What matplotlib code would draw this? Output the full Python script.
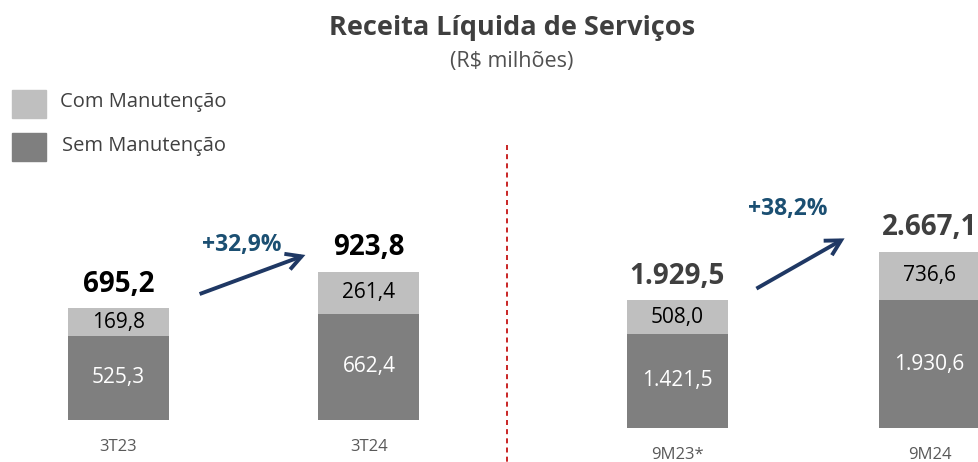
import matplotlib.pyplot as plt
from matplotlib.patches import Rectangle, FancyArrowPatch

plt.rcParams['font.family'] = ['Open Sans', 'DejaVu Sans']

# data
left_cats = ['3T23', '3T24']
left_sem = [525.3, 662.4]
left_com = [169.8, 261.4]
left_total = ['695,2', '923,8']
left_growth = '+32,9%'

right_cats = ['9M23*', '9M24']
right_sem = [1421.5, 1930.6]
right_com = [508.0, 736.6]
right_total = ['1.929,5', '2.667,1']
right_growth = '+38,2%'

W, H = 979, 462
LIGHT = '#BFBFBF'
DARK = '#7F7F7F'
ARROW = '#1F3864'
GROWTH = '#1B4F72'

fig = plt.figure(figsize=(W / 100, H / 100), dpi=100)


def fx(px):
    return px / W


def fy(py):
    return 1 - py / H


def fmt(v):
    s = f'{v:,.1f}'
    return s.replace(',', 'X').replace('.', ',').replace('X', '.')


def panel(cats, sem, com, totals, c0, c1, base_px, per_px, total_color):
    # axes spans the full figure; data scale set so bars land in place
    ax = fig.add_axes([0, 0, 1, 1])
    ax.set_axis_off()
    step = c1 - c0
    ax.set_xlim(-c0 / step, (W - c0) / step)
    ax.set_ylim(-(H - base_px) * per_px, base_px * per_px)
    x = list(range(len(cats)))
    ax.bar(x, sem, width=101 / step, color=DARK, linewidth=0)
    ax.bar(x, com, bottom=sem, width=101 / step, color=LIGHT, linewidth=0)
    for i in x:
        ax.text(i, sem[i] / 2, fmt(sem[i]), ha='center', va='center', color='white', fontsize=15)
        ax.text(i, sem[i] + com[i] / 2, fmt(com[i]), ha='center', va='center', color='black', fontsize=15)
        ax.text(i, sem[i] + com[i] + 24 * per_px, totals[i], ha='center', va='center',
                color=total_color, fontsize=20, fontweight='bold')
        ax.text(i, -27 * per_px, cats[i], ha='center', va='center', color='#595959', fontsize=12)
    return ax


panel(left_cats, left_sem, left_com, left_total, 118.5, 369, 420, 6.23, 'black')
panel(right_cats, right_sem, right_com, right_total, 677, 929.5, 428, 15.12, '#3F3F3F')

# growth arrows
for start, end in [((197, 295), (308, 254)), ((754, 290), (847, 237))]:
    fig.patches.append(FancyArrowPatch(
        (fx(start[0]), fy(start[1])), (fx(end[0]), fy(end[1])), transform=fig.transFigure,
        arrowstyle='->,head_length=11,head_width=6', color=ARROW, linewidth=2.8,
        joinstyle='miter', capstyle='butt'))
fig.text(fx(242), fy(245), left_growth, ha='center', va='center', color=GROWTH,
         fontsize=16.5, fontweight='bold')
fig.text(fx(788), fy(209), right_growth, ha='center', va='center', color=GROWTH,
         fontsize=16.5, fontweight='bold')

# divider
fig.add_artist(plt.Line2D([fx(507), fx(507)], [fy(145), 0], color='#C00000',
                          linestyle=(0, (3, 2.5)), linewidth=1.2))

# title
fig.text(fx(512), fy(28), 'Receita Líquida de Serviços', ha='center', va='center',
         color='#3F3F3F', fontsize=19.5, fontweight='bold')
fig.text(fx(512), fy(61), '(R$ milhões)', ha='center', va='center', color='#505050', fontsize=15.5)

# legend
fig.patches.append(Rectangle((fx(12), fy(118)), 34 / W, 28 / H, transform=fig.transFigure,
                             color=LIGHT))
fig.patches.append(Rectangle((fx(12), fy(161)), 34 / W, 28 / H, transform=fig.transFigure,
                             color=DARK))
fig.text(fx(60), fy(102), 'Com Manutenção', ha='left', va='center', color='#404040', fontsize=14.5)
fig.text(fx(62), fy(146), 'Sem Manutenção', ha='left', va='center', color='#404040', fontsize=14.5)

fig.savefig('out.png', dpi=100)
